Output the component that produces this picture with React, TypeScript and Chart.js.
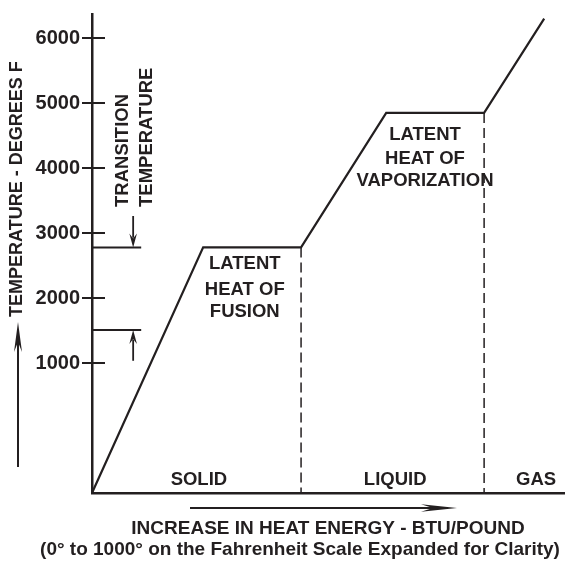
import React, { useEffect, useRef } from "react";
import { Chart, registerables } from "chart.js";

Chart.register(...registerables);

// ---- data (schematic units) ----
const energy = [0, 23.5, 44.2, 62.2, 82.9, 95.6];
const temperature = [-1000, 2780, 2780, 4850, 4850, 6300];
const yTickValues = [1000, 2000, 3000, 4000, 5000, 6000];
const transitionTemps = [2780, 1510];
const transitionArrowFrom = [3265, 1035];
const phaseLabels = ["SOLID", "LIQUID", "GAS"];
const fusionLabel = ["LATENT", "HEAT OF", "FUSION"];
const vaporLabel = ["LATENT", "HEAT OF", "VAPORIZATION"];
const yTitle = "TEMPERATURE - DEGREES F";
const transitionTitle = ["TRANSITION", "TEMPERATURE"];
const xTitle = [
  "INCREASE IN HEAT ENERGY - BTU/POUND",
  "(0\u00B0 to 1000\u00B0 on the Fahrenheit Scale Expanded for Clarity)",
];

const Y_MIN = -1000;
const Y_MAX = 6372;
const X_MIN = 0;
const X_MAX = 100;
const TRANSITION_LINE_END = 10.4;
const TRANSITION_ARROW_X = 8.7;

const INK = "#231f20";
const FONT = '"Liberation Sans", Arial, sans-serif';

function arrowHead(ctx: CanvasRenderingContext2D, tx: number, ty: number, angle: number, len: number, half: number, notch: number) {
  ctx.save();
  ctx.translate(tx, ty);
  ctx.rotate(angle);
  ctx.beginPath();
  ctx.moveTo(0, 0);
  ctx.lineTo(-len, -half);
  ctx.lineTo(-notch, 0);
  ctx.lineTo(-len, half);
  ctx.closePath();
  ctx.fill();
  ctx.restore();
}

const decorPlugin = {
  id: "decor",
  afterDatasetsDraw(chart: any) {
    const { ctx, scales } = chart;
    const x = scales.x;
    const y = scales.y;
    ctx.save();
    ctx.fillStyle = INK;
    ctx.strokeStyle = INK;

    // inner half of the crossing tick marks
    ctx.lineWidth = 2;
    yTickValues.forEach((v) => {
      const py = Math.round(y.getPixelForValue(v));
      ctx.beginPath();
      ctx.moveTo(x.left, py);
      ctx.lineTo(x.left + 13, py);
      ctx.stroke();
    });

    // transition arrowheads
    const ax = x.getPixelForValue(TRANSITION_ARROW_X);
    arrowHead(ctx, ax, y.getPixelForValue(transitionTemps[0]), Math.PI / 2, 14, 3.8, 9);
    arrowHead(ctx, ax, y.getPixelForValue(transitionTemps[1]), -Math.PI / 2, 14, 3.8, 9);

    // left vertical arrow
    ctx.lineWidth = 2;
    ctx.beginPath();
    ctx.moveTo(18, 467);
    ctx.lineTo(18, 330);
    ctx.stroke();
    arrowHead(ctx, 18, 322, -Math.PI / 2, 30, 4, 20);

    // bottom horizontal arrow
    ctx.beginPath();
    ctx.moveTo(190, 508);
    ctx.lineTo(448, 508);
    ctx.stroke();
    arrowHead(ctx, 457, 508, 0, 36, 3.8, 24);

    // texts
    ctx.textBaseline = "middle";
    ctx.textAlign = "center";
    ctx.font = `bold 18.5px ${FONT}`;
    const phaseX = [22.6, 64.1, 93.9];
    phaseLabels.forEach((t, i) => {
      ctx.fillText(t, x.getPixelForValue(phaseX[i]), y.getPixelForValue(-800));
    });
    const fusionY = [2523, 2126, 1783];
    fusionLabel.forEach((t, i) => {
      ctx.fillText(t, x.getPixelForValue(32.3), y.getPixelForValue(fusionY[i]));
    });
    const vaporY = [4515, 4148, 3797];
    vaporLabel.forEach((t, i) => {
      ctx.fillText(t, x.getPixelForValue(70.4), y.getPixelForValue(vaporY[i]));
    });

    // x titles
    ctx.font = `bold 19px ${FONT}`;
    ctx.fillText(xTitle[0], 328, 529);
    ctx.fillText(xTitle[1], 300, 550);

    // rotated texts
    ctx.textAlign = "left";
    ctx.font = `bold 18px ${FONT}`;
    ctx.save();
    ctx.translate(17, 317);
    ctx.rotate(-Math.PI / 2);
    ctx.fillText(yTitle, 0, 0);
    ctx.restore();

    ctx.font = `bold 18.5px ${FONT}`;
    const tx = [123, 147];
    transitionTitle.forEach((t, i) => {
      ctx.save();
      ctx.translate(tx[i], 207);
      ctx.rotate(-Math.PI / 2);
      ctx.fillText(t, 0, 0);
      ctx.restore();
    });

    ctx.restore();
  },
};

function seg(x1: number, y1: number, x2: number, y2: number) {
  return [
    { x: x1, y: y1 },
    { x: x2, y: y2 },
  ];
}

export default function App() {
  const canvasRef = useRef<HTMLCanvasElement | null>(null);

  useEffect(() => {
    document.body.style.margin = "0";
    const canvas = canvasRef.current;
    if (!canvas) return;

    const base = {
      showLine: true,
      pointRadius: 0,
      borderColor: INK,
      backgroundColor: INK,
      fill: false,
      tension: 0,
    };

    const chart = new Chart(canvas, {
      type: "scatter",
      data: {
        datasets: [
          {
            ...base,
            label: "Heating curve",
            data: energy.map((e, i) => ({ x: e, y: temperature[i] })),
            borderWidth: 2.2,
          },
          {
            ...base,
            label: "Fusion end",
            data: seg(energy[2], temperature[2], energy[2], Y_MIN),
            borderWidth: 1.5,
            borderDash: [10, 5],
          },
          {
            ...base,
            label: "Vaporization end",
            data: seg(energy[4], temperature[4], energy[4], Y_MIN),
            borderWidth: 1.5,
            borderDash: [10, 5],
          },
          {
            ...base,
            label: "Transition high",
            data: seg(X_MIN, transitionTemps[0], TRANSITION_LINE_END, transitionTemps[0]),
            borderWidth: 2,
          },
          {
            ...base,
            label: "Transition low",
            data: seg(X_MIN, transitionTemps[1], TRANSITION_LINE_END, transitionTemps[1]),
            borderWidth: 2,
          },
          {
            ...base,
            label: "Arrow down",
            data: seg(TRANSITION_ARROW_X, transitionArrowFrom[0], TRANSITION_ARROW_X, transitionTemps[0] + 150),
            borderWidth: 1.8,
          },
          {
            ...base,
            label: "Arrow up",
            data: seg(TRANSITION_ARROW_X, transitionArrowFrom[1], TRANSITION_ARROW_X, transitionTemps[1] - 150),
            borderWidth: 1.8,
          },
        ],
      },
      options: {
        responsive: false,
        animation: false,
        devicePixelRatio: 1,
        layout: { padding: { top: 10, right: 0, left: 0, bottom: 0 } },
        plugins: {
          legend: { display: false },
          tooltip: { enabled: false },
          title: { display: false },
        },
        scales: {
          x: {
            type: "linear",
            min: X_MIN,
            max: X_MAX,
            grid: { display: false },
            border: { display: true, color: INK, width: 2.5 },
            ticks: { display: false },
            afterFit: (scale: any) => {
              scale.height = 69;
            },
          },
          y: {
            type: "linear",
            min: Y_MIN,
            max: Y_MAX,
            afterBuildTicks: (scale: any) => {
              scale.ticks = yTickValues.map((v) => ({ value: v }));
            },
            grid: {
              display: true,
              drawOnChartArea: false,
              drawTicks: true,
              tickLength: 10,
              color: INK,
              lineWidth: 2,
            },
            border: { display: true, color: INK, width: 2.5 },
            ticks: {
              color: INK,
              padding: 2,
              font: { family: FONT, size: 20, weight: "bold" },
              callback: (v: any) => String(v),
            },
            afterFit: (scale: any) => {
              scale.width = 92;
            },
          },
        },
      },
      plugins: [decorPlugin],
    } as any);

    return () => chart.destroy();
  }, []);

  return (
    <div style={{ width: 565, height: 562, background: "#fff" }}>
      <canvas ref={canvasRef} width={565} height={562} style={{ display: "block" }} />
    </div>
  );
}
